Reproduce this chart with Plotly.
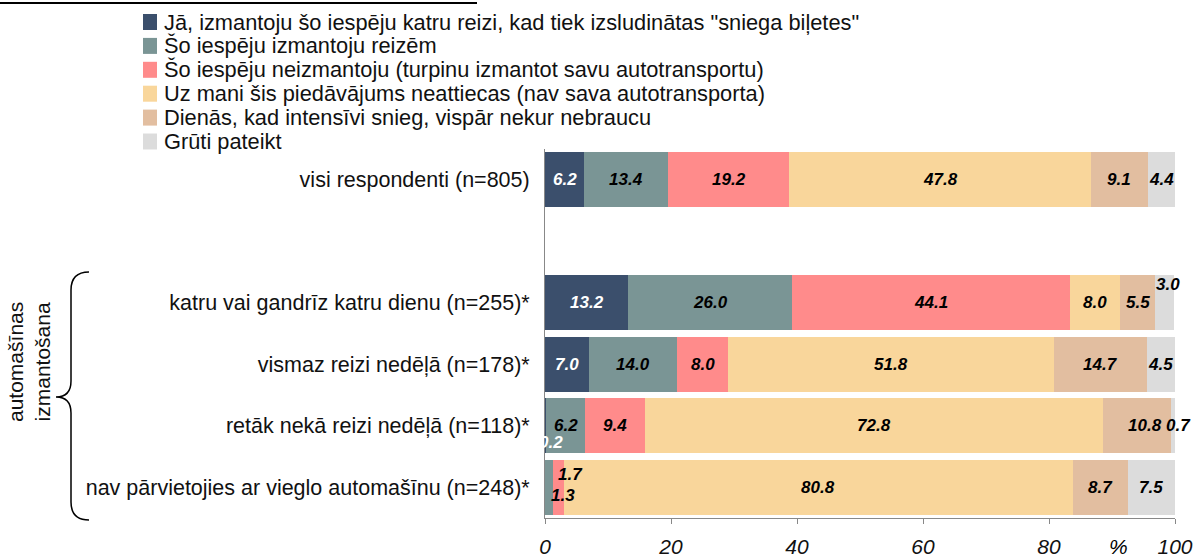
import plotly.graph_objects as go

# ---------------- data ----------------
categories = [
    "visi respondenti (n=805)",
    " ",
    "katru vai gandrīz katru dienu (n=255)*",
    "vismaz reizi nedēļā (n=178)*",
    "retāk nekā reizi nedēļā (n=118)*",
    "nav pārvietojies ar vieglo automašīnu (n=248)*",
]
series_names = [
    "Jā, izmantoju šo iespēju katru reizi, kad tiek izsludinātas \"sniega biļetes\"",
    "Šo iespēju izmantoju reizēm",
    "Šo iespēju neizmantoju (turpinu izmantot savu autotransportu)",
    "Uz mani šis piedāvājums neattiecas (nav sava autotransporta)",
    "Dienās, kad intensīvi snieg, vispār nekur nebraucu",
    "Grūti pateikt",
]
s_ja = [6.2, None, 13.2, 7.0, 0.2, None]
s_reizem = [13.4, None, 26.0, 14.0, 6.2, 1.3]
s_neizm = [19.2, None, 44.1, 8.0, 9.4, 1.7]
s_neattiecas = [47.8, None, 8.0, 51.8, 72.8, 80.8]
s_nebraucu = [9.1, None, 5.5, 14.7, 10.8, 8.7]
s_gruti = [4.4, None, 3.0, 4.5, 0.7, 7.5]
series_values = [s_ja, s_reizem, s_neizm, s_neattiecas, s_nebraucu, s_gruti]
x_ticks = [0, 20, 40, 60, 80, 100]
group_label = "automašīnas<br>izmantošana"

# ---------------- style ----------------
colors = ["#3b4f6c", "#7a9595", "#ff8b8b", "#f9d69b", "#e2bea0", "#dcdcdc"]
label_colors = ["white", "black", "black", "black", "black", "black"]
# pixel nudges for crowded labels: (series, category) -> (dx, dy)
label_nudges = {
    (0, 4): (5, -17),
    (5, 2): (4, 18),
    (5, 4): (5, 0),
    (4, 4): (8, 0),
    (1, 5): (14, -8),
    (2, 5): (12, 13),
}

W, H = 1195, 559
ML, MR, MT, MB = 545, 20, 149, 41
PW, PH = W - ML - MR, H - MT - MB


def px(x, y):
    return (x - ML) / PW, (H - MB - y) / PH


LABEL_FONT = "Liberation Sans Narrow, Arial Narrow, Liberation Sans, Arial"
TEXT_FONT = "Liberation Sans, Arial"

fig = go.Figure()
for name, vals, col in zip(series_names, series_values, colors):
    fig.add_trace(go.Bar(
        y=categories, x=vals, name=name, orientation="h",
        marker=dict(color=col, line=dict(width=0)),
        hoverinfo="x+name", showlegend=False,
    ))

annotations = []
shapes = []
cum = [0.0] * len(categories)
for si, vals in enumerate(series_values):
    for ci, v in enumerate(vals):
        if v is None:
            continue
        mid = cum[ci] + v / 2
        cum[ci] += v
        dx, dy = label_nudges.get((si, ci), (0, 0))
        annotations.append(dict(
            x=mid, y=categories[ci], xref="x", yref="y",
            xanchor="center", yanchor="middle",
            text=f"{v:.1f}", showarrow=False, xshift=dx, yshift=dy,
            font=dict(family=LABEL_FONT, size=17, color=label_colors[si],
                      weight="bold", style="italic"),
        ))

# legend (drawn as squares + text to match the compact spacing)
LEG_X, LEG_Y0, LEG_DY = 143, 22, 23.9
for i, (name, col) in enumerate(zip(series_names, colors)):
    cy = LEG_Y0 + i * LEG_DY
    x0, y0 = px(LEG_X, cy - 8)
    x1, y1 = px(LEG_X + 14, cy + 8)
    shapes.append(dict(type="rect", xref="paper", yref="paper",
                       x0=x0, x1=x1, y0=y0, y1=y1,
                       fillcolor=col, line=dict(width=0)))
    tx, ty = px(LEG_X + 19, cy)
    annotations.append(dict(
        x=tx, y=ty, xref="paper", yref="paper", xanchor="left",
        yanchor="middle", text=name, showarrow=False,
        font=dict(family=TEXT_FONT, size=21.8, color="#111"),
    ))

# "%" axis mark
annotations.append(dict(
    x=px(1118, 546)[0], y=px(1118, 546)[1], xref="paper", yref="paper",
    xanchor="center", yanchor="middle",
    text="%", showarrow=False,
    font=dict(family=LABEL_FONT, size=21, color="black", style="italic"),
))
# group label
gx, gy = px(29, 362)
annotations.append(dict(
    x=gx, y=gy, xref="paper", yref="paper", textangle=-90,
    xanchor="center", yanchor="middle",
    text=group_label, showarrow=False,
    font=dict(family=TEXT_FONT, size=21, color="#111"),
))

# curly brace
pts = {
    "top": px(89, 272), "c1": px(71, 272), "t1": px(71, 290),
    "m1": px(71, 381), "c2": px(71, 397), "tip": px(56, 397),
    "m2": px(71, 413), "b1": px(71, 502), "c3": px(71, 520), "bot": px(89, 520),
}
def P(k):
    return f"{pts[k][0]:.5f},{pts[k][1]:.5f}"
brace_path = (f"M {P('top')} Q {P('c1')} {P('t1')} L {P('m1')} "
              f"Q {P('c2')} {P('tip')} Q {P('c2')} {P('m2')} L {P('b1')} "
              f"Q {P('c3')} {P('bot')}")
shapes.append(dict(type="path", path=brace_path, xref="paper", yref="paper",
                   line=dict(color="black", width=1.5)))
shapes.append(dict(type="line", xref="paper", yref="paper",
                   x0=px(0, 3)[0], x1=px(477, 3)[0], y0=px(0, 3)[1], y1=px(0, 3)[1],
                   line=dict(color="black", width=2)))

fig.update_layout(
    width=W, height=H,
    margin=dict(l=ML, r=MR, t=MT, b=MB, pad=0, autoexpand=False),
    barmode="stack", bargap=0.1,
    plot_bgcolor="white", paper_bgcolor="white",
    font=dict(family=TEXT_FONT, color="#111"),
    showlegend=False,
    xaxis=dict(
        range=[0, 100], tickvals=x_ticks, ticktext=[str(t) for t in x_ticks],
        showgrid=False, zeroline=False, showline=True, linecolor="#888",
        linewidth=1, ticks="outside", ticklen=5, tickcolor="#888",
        tickfont=dict(family=LABEL_FONT, size=21, color="#111", style="italic"),
        ticklabelstandoff=5, fixedrange=True,
    ),
    yaxis=dict(
        categoryorder="array", categoryarray=categories, autorange="reversed",
        showgrid=False, zeroline=False, showline=True, linecolor="#888",
        linewidth=1, ticks="", ticklabelstandoff=10,
        tickfont=dict(family=TEXT_FONT, size=21.5, color="#111"),
        fixedrange=True,
    ),
    annotations=annotations,
    shapes=shapes,
)

fig.write_html("out.html", config={"displayModeBar": False},
               post_script="document.body.style.margin='0';")
